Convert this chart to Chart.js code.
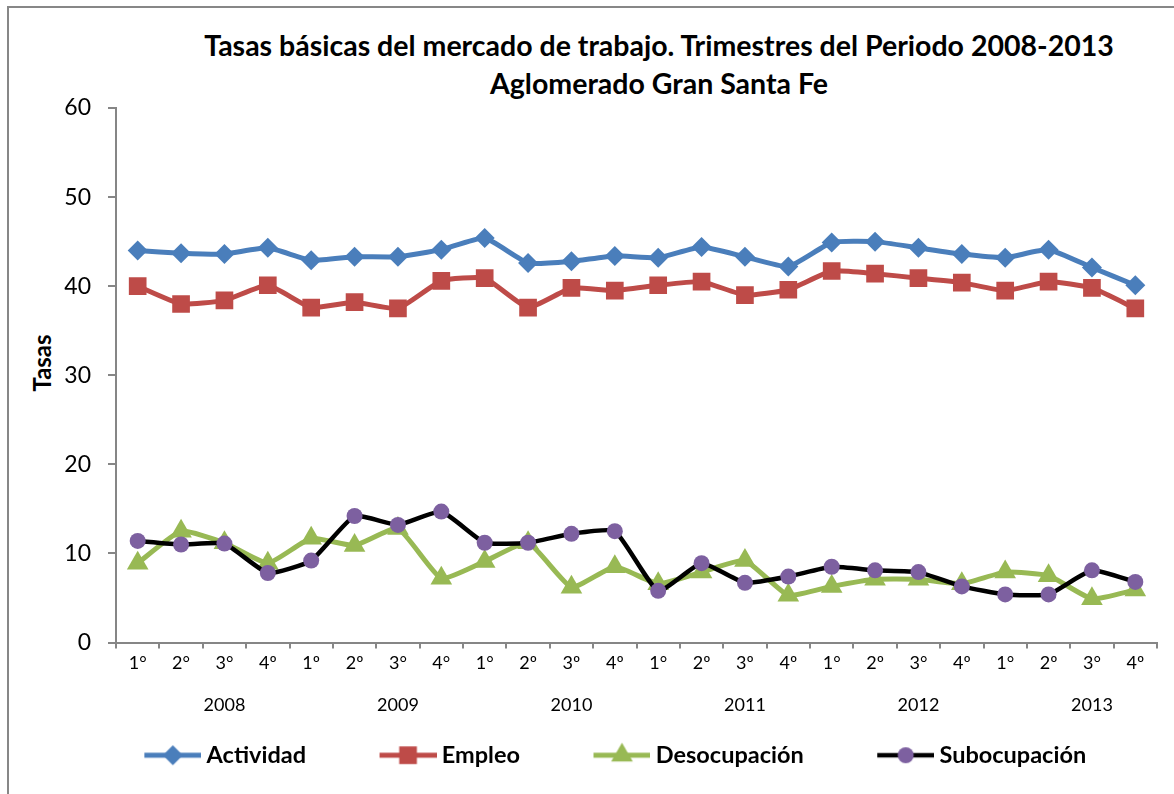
<!DOCTYPE html>
<html>
<head>
<meta charset="utf-8">
<script src="https://cdn.jsdelivr.net/npm/chart.js@4.4.1/dist/chart.umd.min.js"></script>
<style>
  html, body { margin: 0; padding: 0; background: #fff; overflow: hidden; }
  #wrap { position: relative; width: 1174px; height: 794px; overflow: hidden; }
  #frame { position: absolute; left: 7px; top: 6px; width: 1300px; height: 900px; border: 2px solid #878787; }
  #c { position: absolute; left: 0; top: 0; }
  .t { position: absolute; left: 159px; width: 1000px; text-align: center; font-family: Lato, "Open Sans", sans-serif; font-weight: bold; font-size: 28.5px; color: #000; white-space: nowrap; line-height: 34px; }
  #ytitle { position: absolute; left: 42px; top: 363px; transform: translate(-50%, -50%) rotate(-90deg); font-family: Lato, "Open Sans", sans-serif; font-weight: bold; font-size: 24px; line-height: 28px; color: #000; white-space: nowrap; }
</style>
</head>
<body>
<div id="wrap">
  <div id="frame"></div>
  <div class="t" id="t1" style="top:28px">Tasas básicas del mercado de trabajo. Trimestres del Periodo 2008-2013</div>
  <div class="t" id="t2" style="top:66px">Aglomerado Gran Santa Fe</div>
  <div id="ytitle">Tasas</div>
  <canvas id="c" width="1174" height="794"></canvas>
</div>
<script>
const quarters = ['1°','2°','3°','4º','1º','2º','3°','4°','1°','2º','3º','4º','1°','2º','3º','4º','1°','2º','3°','4º','1°','2º','3°','4º'];
const years = ['2008','2009','2010','2011','2012','2013'];
const actividad = [44.0,43.7,43.6,44.3,42.9,43.3,43.3,44.1,45.4,42.6,42.8,43.4,43.2,44.4,43.3,42.2,44.9,45.0,44.3,43.6,43.2,44.1,42.1,40.1];
const empleo = [40.0,38.0,38.4,40.1,37.6,38.2,37.5,40.6,40.9,37.6,39.8,39.5,40.1,40.5,39.0,39.6,41.7,41.4,40.9,40.4,39.5,40.5,39.8,37.5];
const desocupacion = [8.9,12.5,11.2,8.9,11.7,10.9,12.8,7.2,9.1,11.2,6.2,8.5,6.6,7.9,9.2,5.3,6.3,7.1,7.1,6.6,7.9,7.5,4.9,5.9];
const subocupacion = [11.4,11.0,11.1,7.8,9.2,14.2,13.2,14.7,11.2,11.2,12.2,12.5,5.8,8.9,6.7,7.4,8.5,8.1,7.9,6.3,5.4,5.4,8.1,6.8];
const seriesNames = ['Actividad','Empleo','Desocupación','Subocupación'];

const FONT = 'Lato, "Open Sans", sans-serif';
const AXIS = '#868686';

// year labels placed under the 3rd quarter of each year
const yearRow = [];
years.forEach(y => { yearRow.push('', '', y, ''); });

const styles = [
  { line: '#4A7EBB', fill: '#4A7EBB', point: 'rectRot', r: 10, lw: 5 },
  { line: '#BE4B48', fill: '#BE4B48', point: 'rect', r: 12.5, lw: 5 },
  { line: '#98B954', fill: '#98B954', point: 'triangle', r: 12.5, lw: 5 },
  { line: '#000000', fill: '#7D60A0', point: 'circle', r: 8, lw: 4.5 }
];
const values = [actividad, empleo, desocupacion, subocupacion];

const BW = 114;
const LFS = 23.5;
function legendIcon(s) {
  const W = BW + 13, H = 28;
  const cv = document.createElement('canvas');
  cv.width = W; cv.height = H;
  const ctx = cv.getContext('2d');
  const x0 = W - 57, cx = W - 28.5, cy = H / 2;
  ctx.strokeStyle = s.line; ctx.lineWidth = s.lw;
  ctx.beginPath(); ctx.moveTo(x0, cy); ctx.lineTo(W, cy); ctx.stroke();
  ctx.fillStyle = s.fill;
  const r = s.r;
  ctx.beginPath();
  if (s.point === 'rectRot') {
    ctx.moveTo(cx - r, cy); ctx.lineTo(cx, cy - r); ctx.lineTo(cx + r, cy); ctx.lineTo(cx, cy + r);
  } else if (s.point === 'rect') {
    const h = r * Math.SQRT1_2; ctx.rect(cx - h, cy - h, 2 * h, 2 * h);
  } else if (s.point === 'triangle') {
    ctx.moveTo(cx, cy - r); ctx.lineTo(cx + r * 0.866, cy + r / 2); ctx.lineTo(cx - r * 0.866, cy + r / 2);
  } else {
    ctx.arc(cx, cy, r, 0, Math.PI * 2);
  }
  ctx.closePath(); ctx.fill();
  return cv;
}
const icons = styles.map(legendIcon);

const datasets = seriesNames.map((name, i) => ({
  label: name,
  data: values[i],
  borderColor: styles[i].line,
  backgroundColor: styles[i].fill,
  borderWidth: styles[i].lw,
  pointStyle: styles[i].point,
  pointRadius: styles[i].r,
  pointHoverRadius: styles[i].r,
  pointBackgroundColor: styles[i].fill,
  pointBorderColor: styles[i].fill,
  pointBorderWidth: 0,
  tension: 0.15,
  xAxisID: 'x',
  order: 3 - i
}));

new Chart(document.getElementById('c'), {
  type: 'line',
  data: { labels: quarters, datasets },
  options: {
    responsive: false,
    animation: false,
    devicePixelRatio: 1,
    layout: { padding: { left: 10, right: 17, top: 108, bottom: 17 } },
    plugins: {
      title: { display: false },
      tooltip: { enabled: false },
      legend: {
        position: 'bottom',
        align: 'center',
        labels: {
          usePointStyle: true,
          pointStyleWidth: BW,
          padding: 10,
          color: '#000',
          font: { family: FONT, size: LFS, weight: 'bold' },
          generateLabels: (chart) => chart.data.datasets.map((d, i) => ({
            text: d.label,
            pointStyle: icons[i],
            datasetIndex: i,
            hidden: false,
            lineWidth: 0,
            fillStyle: 'transparent',
            strokeStyle: 'transparent',
            fontColor: '#000'
          }))
        }
      }
    },
    scales: {
      y: {
        min: 0, max: 60,
        afterFit: s => { s.width = 106; },
        ticks: { stepSize: 10, padding: 17, color: '#000', font: { family: FONT, size: 23 } },
        grid: { drawOnChartArea: false, tickLength: 8, color: AXIS, lineWidth: 2 },
        border: { color: AXIS, width: 2 },
        title: { display: false }
      },
      x: {
        offset: true,
        afterFit: s => { s.height = 42; },
        ticks: { autoSkip: false, maxRotation: 0, padding: 4, color: '#000', font: { family: FONT, size: 18 } },
        grid: { offset: true, drawOnChartArea: false, tickLength: 6, color: AXIS, lineWidth: 2 },
        border: { color: AXIS, width: 2 }
      },
      x2: {
        type: 'category',
        position: 'bottom',
        labels: yearRow,
        offset: true,
        afterFit: s => { s.height = 49; },
        ticks: { autoSkip: false, maxRotation: 0, padding: 10, color: '#000', font: { family: FONT, size: 18 } },
        grid: { display: false, drawTicks: false },
        border: { display: false }
      }
    }
  }
});
</script>
</body>
</html>
